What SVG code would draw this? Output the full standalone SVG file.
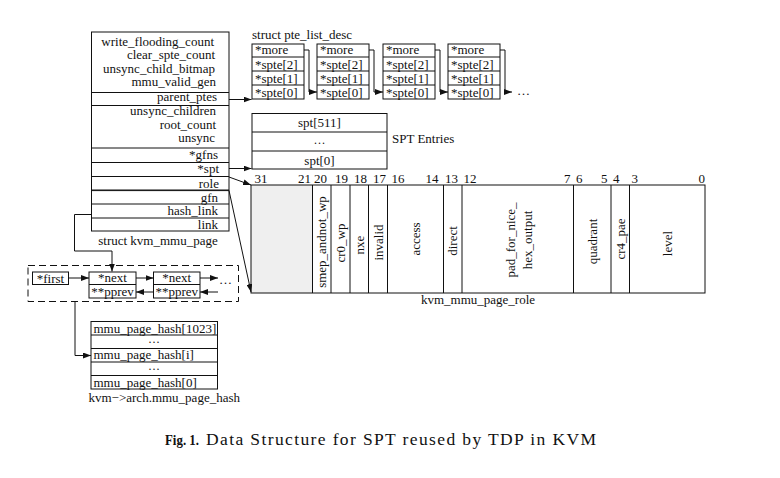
<svg xmlns="http://www.w3.org/2000/svg" width="780" height="478" viewBox="0 0 780 478">
<defs>
<marker id="ah" viewBox="0 0 8 6" refX="8" refY="3" markerWidth="8" markerHeight="6" markerUnits="userSpaceOnUse" orient="auto">
<path d="M0,0 L8,3 L0,6 z" fill="#111"/>
</marker>
<style>
text{font-family:"Liberation Serif","Times New Roman",serif;font-size:13px;fill:#111}
.r{text-anchor:end}
.m{text-anchor:middle}
.d{text-anchor:middle;font-size:12px}
.box{fill:none;stroke:#111;stroke-width:1}
.ln{fill:none;stroke:#111;stroke-width:1}
.ar{fill:none;stroke:#111;stroke-width:1;marker-end:url(#ah)}
.v{text-anchor:middle;dominant-baseline:central}
.cap{font-size:17.5px}
.capb{font-size:15.5px;font-weight:bold}
</style>
</defs>
<rect width="780" height="478" fill="#fff"/>

<g id="kvm_mmu_page">
<rect class="box" x="91.5" y="32" width="137.5" height="199"/>
<path class="ln" d="M91.5,92.5H229M91.5,105.5H229M91.5,148H229M91.5,162.5H229M91.5,176.5H229M91.5,190H229M91.5,204H229M91.5,218H229"/>
<path class="ln" d="M91.5,190.6H229"/>
<text class="r" x="214" y="45.5">write_flooding_count</text>
<text class="r" x="215" y="59">clear_spte_count</text>
<text class="r" x="215" y="72.5">unsync_child_bitmap</text>
<text class="r" x="216" y="86">mmu_valid_gen</text>
<text class="r" x="217" y="101">parent_ptes</text>
<text class="r" x="216" y="115">unsync_children</text>
<text class="r" x="216" y="128.5">root_count</text>
<text class="r" x="215" y="142">unsync</text>
<text class="r" x="218" y="159">*gfns</text>
<text class="r" x="219" y="173">*spt</text>
<text class="r" x="219" y="188">role</text>
<text class="r" x="218" y="201.5">gfn</text>
<text class="r" x="218" y="215">hash_link</text>
<text class="r" x="218" y="228.5">link</text>
<text class="m" x="158" y="244.5">struct kvm_mmu_page</text>
</g>

<g id="pte_list_desc">
<text x="252" y="38.5">struct pte_list_desc</text>
<g id="pte1">
<rect class="box" x="252" y="44" width="52" height="55"/>
<path class="ln" d="M252,57H304M252,71H304M252,85H304"/>
<text x="255" y="54">*more</text><text x="255" y="68.5">*spte[2]</text><text x="255" y="82.5">*spte[1]</text><text x="255" y="96.5">*spte[0]</text>
</g>
<g id="pte2">
<rect class="box" x="317" y="44" width="52" height="55"/>
<path class="ln" d="M317,57H369M317,71H369M317,85H369"/>
<text x="320" y="54">*more</text><text x="320" y="68.5">*spte[2]</text><text x="320" y="82.5">*spte[1]</text><text x="320" y="96.5">*spte[0]</text>
</g>
<g id="pte3">
<rect class="box" x="383" y="44" width="52" height="55"/>
<path class="ln" d="M383,57H435M383,71H435M383,85H435"/>
<text x="386" y="54">*more</text><text x="386" y="68.5">*spte[2]</text><text x="386" y="82.5">*spte[1]</text><text x="386" y="96.5">*spte[0]</text>
</g>
<g id="pte4">
<rect class="box" x="448" y="44" width="52" height="55"/>
<path class="ln" d="M448,57H500M448,71H500M448,85H500"/>
<text x="451" y="54">*more</text><text x="451" y="68.5">*spte[2]</text><text x="451" y="82.5">*spte[1]</text><text x="451" y="96.5">*spte[0]</text>
</g>
<text x="517" y="95">…</text>
</g>

<g id="spt_entries">
<rect class="box" x="252" y="113.5" width="135" height="55.5"/>
<path class="ln" d="M252,132H387M252,151H387"/>
<text class="m" x="319.5" y="127">spt[511]</text>
<text class="d" x="319.5" y="147">···</text>
<text class="m" x="319.5" y="165">spt[0]</text>
<text x="392" y="142.5">SPT Entries</text>
</g>

<g id="kvm_mmu_page_role">
<rect x="251" y="185" width="61.5" height="108" fill="#efefef"/>
<rect class="box" x="251" y="185" width="454" height="108"/>
<path class="ln" d="M312.5,185V293M331,185V293M350,185V293M368.5,185V293M387.5,185V293M443.5,185V293M462,185V293M573.5,185V293M611,185V293M629.5,185V293"/>
<text x="254.5" y="183">31</text>
<text class="r" x="311" y="183">21</text>
<text x="314" y="183">20</text>
<text x="335" y="183">19</text>
<text x="354" y="183">18</text>
<text x="373" y="183">17</text>
<text x="391.5" y="183">16</text>
<text class="r" x="438.5" y="183">14</text>
<text x="445" y="183">13</text>
<text x="463.5" y="183">12</text>
<text class="r" x="570.5" y="183">7</text>
<text x="576" y="183">6</text>
<text class="r" x="607.5" y="183">5</text>
<text x="613" y="183">4</text>
<text x="631.5" y="183">3</text>
<text class="r" x="705" y="183">0</text>
<text class="v" transform="translate(321.75,242) rotate(-90)">smep_andnot_wp</text>
<text class="v" transform="translate(340.5,243) rotate(-90)">cr0_wp</text>
<text class="v" transform="translate(359.25,245) rotate(-90)">nxe</text>
<text class="v" transform="translate(378,242.5) rotate(-90)">invalid</text>
<text class="v" transform="translate(415.5,239) rotate(-90)">access</text>
<text class="v" transform="translate(452.75,241) rotate(-90)">direct</text>
<text class="v" transform="translate(510.5,240) rotate(-90)">pad_for_nice_</text>
<text class="v" transform="translate(527,240) rotate(-90)">hex_output</text>
<text class="v" transform="translate(592.25,241.5) rotate(-90)">quadrant</text>
<text class="v" transform="translate(620.25,239) rotate(-90)">cr4_pae</text>
<text class="v" transform="translate(667.5,243.5) rotate(-90)">level</text>
<text class="m" x="478" y="304">kvm_mmu_page_role</text>
</g>

<g id="hash_list">
<rect x="28" y="265.5" width="210.5" height="36" fill="none" stroke="#111" stroke-dasharray="7,4"/>
<g id="first">
<rect class="box" x="32.5" y="272" width="36" height="12.5"/>
<text class="m" x="50.5" y="282.5">*first</text>
</g>
<g id="node1">
<rect class="box" x="89" y="272" width="47" height="26"/>
<path class="ln" d="M89,284.5H136"/>
<text class="m" x="112.5" y="282">*next</text>
<text class="m" x="112.5" y="295.5">**pprev</text>
</g>
<g id="node2">
<rect class="box" x="153.5" y="272" width="46.5" height="26"/>
<path class="ln" d="M153.5,284.5H200"/>
<text class="m" x="176.75" y="282">*next</text>
<text class="m" x="176.75" y="295.5">**pprev</text>
</g>
<text x="219" y="284">…</text>
</g>

<g id="mmu_page_hash">
<rect class="box" x="91" y="321.5" width="126.5" height="67.5"/>
<path class="ln" d="M91,335H217.5M91,348.5H217.5M91,362H217.5M91,375.5H217.5"/>
<text x="93.5" y="332.5">mmu_page_hash[1023]</text>
<text class="d" x="154" y="345.5">···</text>
<text x="93.5" y="359">mmu_page_hash[i]</text>
<text class="d" x="154" y="372.5">···</text>
<text x="93.5" y="386.5">mmu_page_hash[0]</text>
<text x="88.5" y="401.5">kvm−&gt;arch.mmu_page_hash</text>
</g>

<g id="connectors">
<path class="ar" d="M229,99.5H251.5"/>
<path class="ar" d="M304,50H309V92H317"/>
<path class="ar" d="M369,50H374V92H383"/>
<path class="ar" d="M435,50H440V92H448"/>
<path class="ar" d="M500,50H505V92H512"/>
<path class="ar" d="M229,168.5H251.5"/>
<path class="ar" d="M229,177L251,185"/>
<path class="ar" d="M229,190.5L251,292"/>
<path class="ar" d="M91.5,214.5H74.5V251H112V271.5"/>
<path class="ar" d="M68.5,278H89"/>
<path class="ar" d="M136,278H153.5"/>
<path class="ar" d="M200,278H218"/>
<path class="ar" d="M153.5,292H136"/>
<path class="ar" d="M218,292H200"/>
<path class="ar" d="M75,301.5V355.5H91"/>
</g>

<g id="caption">
<text class="capb" x="165" y="445" textLength="34" lengthAdjust="spacingAndGlyphs">Fig. 1.</text>
<text class="cap" x="206" y="445" textLength="390" lengthAdjust="spacing">Data Structure for SPT reused by TDP in KVM</text>
</g>
</svg>
